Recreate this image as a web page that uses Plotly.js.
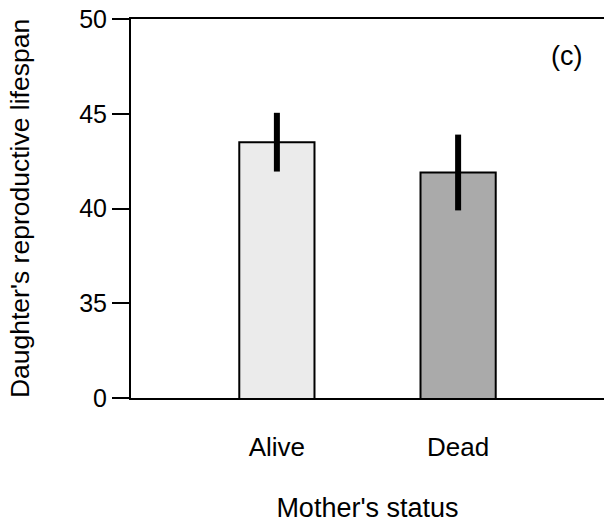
<!DOCTYPE html>
<html>
<head>
<meta charset="utf-8">
<script src="https://cdn.plot.ly/plotly-3.0.1.min.js"></script>
<style>html,body{margin:0;padding:0;background:#fff;}#chart{width:604px;height:523px;}</style>
</head>
<body>
<div id="chart"></div>
<script>
// Data
var categories = ["Alive", "Dead"];
var means = [43.5, 41.9];
var errors = [1.55, 2.0];
var barColors = ["#ebebeb", "#aaaaaa"];
// Broken y-axis: bottom tick represents 0
var yTickVals = [30, 35, 40, 45, 50];
var yTickText = ["0", "35", "40", "45", "50"];

var FONT = "Liberation Sans, Arial, sans-serif";

var trace = {
  type: "bar",
  x: categories,
  y: means,
  width: 0.415,
  marker: {color: barColors, line: {color: "#000", width: 2}},
  error_y: {type: "data", array: errors, visible: true, color: "#000", thickness: 6, width: 0},
  hoverinfo: "none"
};

var layout = {
  width: 604, height: 523,
  margin: {l: 131, r: 0, t: 19, b: 125},
  paper_bgcolor: "#fff", plot_bgcolor: "#fff",
  showlegend: false,
  font: {family: FONT, color: "#000", size: 25},
  xaxis: {
    type: "category",
    range: [-0.805, 1.805],
    showline: true, linecolor: "#000", linewidth: 2,
    mirror: true,
    ticks: "", showgrid: false, zeroline: false,
    tickfont: {family: FONT, size: 26, color: "#000"},
    ticklabelstandoff: 25,
    title: {text: "Mother's status", font: {family: FONT, size: 27, color: "#000"}, standoff: 45}
  },
  yaxis: {
    range: [30, 50],
    tickvals: yTickVals, ticktext: yTickText,
    showline: true, linecolor: "#000", linewidth: 2,
    mirror: true,
    ticks: "outside", ticklen: 17, tickwidth: 2, tickcolor: "#000",
    showgrid: false, zeroline: false,
    tickfont: {family: FONT, size: 25, color: "#000"},
    title: {text: "Daughter's reproductive lifespan", font: {family: FONT, size: 26.5, color: "#000"}, standoff: 42}
  },
  annotations: [{
    xref: "paper", yref: "paper", x: 0.921, y: 0.902,
    xanchor: "center", yanchor: "middle",
    text: "(c)", showarrow: false,
    font: {family: FONT, size: 27, color: "#000"}
  }]
};

Plotly.newPlot("chart", [trace], layout, {displayModeBar: false, staticPlot: true});
</script>
</body>
</html>
